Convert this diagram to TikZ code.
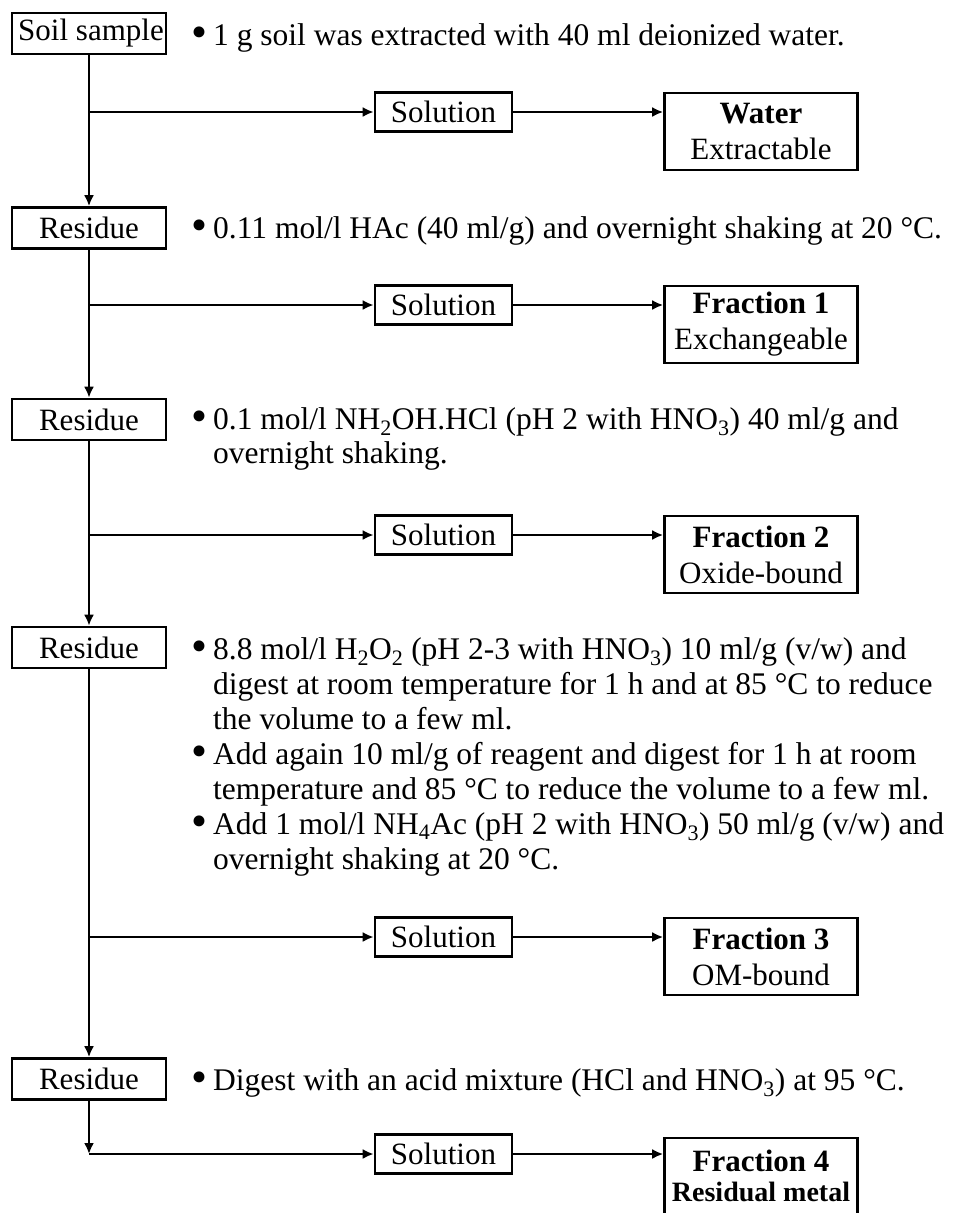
\documentclass[tikz,border=0pt]{standalone}
\usepackage{fontspec}
\setmainfont{Liberation Serif}
\usetikzlibrary{arrows.meta}
\begin{document}
\begin{tikzpicture}[x=1pt,y=-1pt,
  box/.style={draw,line width=2.6pt,inner sep=0pt,font=\fontsize{31}{36}\selectfont},
  leftbox/.style={box,minimum width=154pt,minimum height=41pt},
  solbox/.style={box,minimum width=137pt,minimum height=39pt},
  fracbox/.style={box,minimum width=193pt,minimum height=77pt,align=center},
  txt/.style={anchor=base west,inner sep=0pt,font=\fontsize{31.5}{35}\selectfont},
  arr/.style={line width=2.6pt,-{Latex[length=11pt,width=10pt]}}]
\useasboundingbox (0,0) rectangle (960,1213);
\newcommand{\bul}{\makebox[22pt][l]{\raisebox{-2pt}{\scalebox{1.45}{\textbullet}}}}
% left column
\node[leftbox] (soil) at (89,33.5) {\hspace*{4pt}Soil sample};
\node[leftbox] (res1) at (89,228) {Residue};
\node[leftbox] (res2) at (89,419.5) {Residue};
\node[leftbox] (res3) at (89,647.5) {Residue};
\node[leftbox] (res4) at (89,1079) {Residue};
% solution boxes
\node[solbox] (sol1) at (443.5,112) {Solution};
\node[solbox] (sol2) at (443.5,305) {Solution};
\node[solbox] (sol3) at (443.5,535) {Solution};
\node[solbox] (sol4) at (443.5,937) {Solution};
\node[solbox] (sol5) at (443.5,1154) {Solution};
% fraction boxes
\node[fracbox] (f0) at (761,131.5) {\textbf{Water}\\Extractable};
\node[fracbox] (f1) at (761,324.5) {\textbf{Fraction 1}\\Exchangeable};
\node[fracbox] (f2) at (761,554.5) {\textbf{Fraction 2}\\Oxide-bound};
\node[fracbox] (f3) at (761,956.5) {\textbf{Fraction 3}\\OM-bound};
\node[fracbox,minimum height=82pt] (f4) at (761,1179) {\raisebox{7pt}{\begin{tabular}{@{}c@{}}\textbf{Fraction 4}\\[-6pt]{\fontsize{28}{30}\selectfont\textbf{Residual metal}}\end{tabular}}};
% branch points
\coordinate (b1) at (89,112);
\coordinate (b2) at (89,305);
\coordinate (b3) at (89,535);
\coordinate (b4) at (89,937);
\coordinate (b5) at (89,1154);
% main vertical line
\draw[arr] (soil.south) -- (res1.north);
\draw[arr] (res1.south) -- (res2.north);
\draw[arr] (res2.south) -- (res3.north);
\draw[arr] (res3.south) -- (res4.north);
\draw[arr] (res4.south) -- (b5);
% branches
\draw[arr] (b1) -- (sol1.west);
\draw[arr] (b2) -- (sol2.west);
\draw[arr] (b3) -- (sol3.west);
\draw[arr] (b4) -- (sol4.west);
\draw[arr] (b5) -- (sol5.west);
\draw[arr] (sol1.east) -- (sol1.east -| f0.west);
\draw[arr] (sol2.east) -- (sol2.east -| f1.west);
\draw[arr] (sol3.east) -- (sol3.east -| f2.west);
\draw[arr] (sol4.east) -- (sol4.east -| f3.west);
\draw[arr] (sol5.east) -- (sol5.east -| f4.west);
% texts
\node[txt] (t1) at (191,45) {\bul 1 g soil was extracted with 40 ml deionized water.};
\node[txt] (t2) at (191,238) {\bul 0.11 mol/l HAc (40 ml/g) and overnight shaking at 20 °C.};
\node[txt] (t3a) at (191,429) {\bul 0.1 mol/l NH\textsubscript{2}OH.HCl (pH 2 with HNO\textsubscript{3}) 40 ml/g and};
\node[txt] (t3b) at (213,463) {overnight shaking.};
\node[txt] (t4a) at (191,659) {\bul 8.8 mol/l H\textsubscript{2}O\textsubscript{2} (pH 2-3 with HNO\textsubscript{3}) 10 ml/g (v/w) and};
\node[txt] (t4b) at (213,694) {digest at room temperature for 1 h and at 85 °C to reduce};
\node[txt] (t4c) at (213,729) {the volume to a few ml.};
\node[txt] (t5a) at (191,764) {\bul Add again 10 ml/g of reagent and digest for 1 h at room};
\node[txt] (t5b) at (213,799) {temperature and 85 °C to reduce the volume to a few ml.};
\node[txt] (t6a) at (191,834) {\bul Add 1 mol/l NH\textsubscript{4}Ac (pH 2 with HNO\textsubscript{3}) 50 ml/g (v/w) and};
\node[txt] (t6b) at (213,869) {overnight shaking at 20 °C.};
\node[txt] (t7) at (191,1090) {\bul Digest with an acid mixture (HCl and HNO\textsubscript{3}) at 95 °C.};
\end{tikzpicture}
\end{document}
